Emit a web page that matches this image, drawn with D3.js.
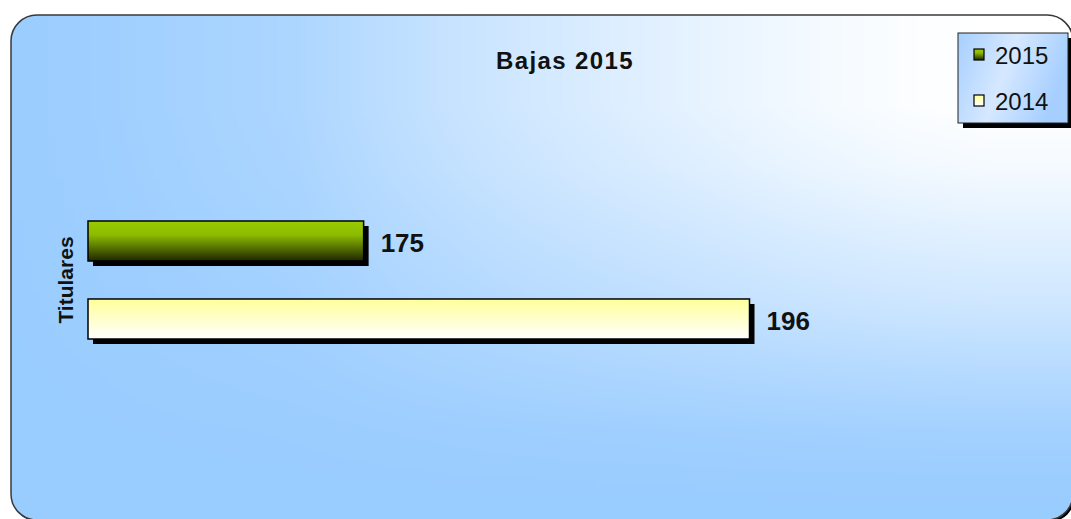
<!DOCTYPE html>
<html>
    <head>
        <meta charset="utf-8"/>
        <script src="https://cdnjs.cloudflare.com/ajax/libs/d3/7.8.5/d3.min.js"></script>
        <style>
            body { margin: 0; background: #fff; }
            text { font-family: Arial, "Liberation Sans", sans-serif; }
        </style>
    </head>
    <body>
        <script>
            // data
            const category = "Titulares";
            const seriesNames = ["2015", "2014"];
            const values = [175, 196];
            const title = "Bajas 2015";

            const width = 1071;
            const height = 519;

            const svg = d3.select("body").append("svg")
                .attr("width", width)
                .attr("height", height);

            const defs = svg.append("defs");

            // background: blue base with a white glow, stronger to the top right
            const area = { x: 11, y: 15, w: 1062, h: 505 };

            const hGrad = defs.append("linearGradient")
                .attr("id", "hg").attr("x1", 0).attr("y1", 0).attr("x2", 1).attr("y2", 0);
            [[0, 0.02], [0.08, 0.06], [0.27, 0.2], [0.37, 0.38], [0.46, 0.52], [0.55, 0.64],
             [0.65, 0.76], [0.74, 0.87], [0.84, 0.96], [0.92, 1], [1, 1]].forEach(([o, a]) =>
                hGrad.append("stop").attr("offset", o).attr("stop-color", "#fff").attr("stop-opacity", a));

            const vGrad = defs.append("linearGradient")
                .attr("id", "vg").attr("x1", 0).attr("y1", 0).attr("x2", 0).attr("y2", 1);
            [[0, 1], [0.18, 1], [0.3, 0.9], [0.43, 0.72], [0.57, 0.53], [0.7, 0.3],
             [0.82, 0.11], [0.92, 0.03], [1, 0]].forEach(([o, a]) =>
                vGrad.append("stop").attr("offset", o).attr("stop-color", "#fff").attr("stop-opacity", a));

            defs.append("mask").attr("id", "mh")
                .append("rect").attr("x", area.x).attr("y", area.y)
                .attr("width", area.w).attr("height", area.h).attr("fill", "url(#hg)");
            defs.append("mask").attr("id", "mv")
                .append("rect").attr("x", area.x).attr("y", area.y)
                .attr("width", area.w).attr("height", area.h).attr("fill", "url(#vg)");

            const green = defs.append("linearGradient")
                .attr("id", "g2015").attr("x1", 0).attr("y1", 0).attr("x2", 0).attr("y2", 1);
            green.append("stop").attr("offset", "0%").attr("stop-color", "#99cc00");
            green.append("stop").attr("offset", "35%").attr("stop-color", "#8cbb00");
            green.append("stop").attr("offset", "100%").attr("stop-color", "#1f2600");

            const yellow = defs.append("linearGradient")
                .attr("id", "g2014").attr("x1", 0).attr("y1", 0).attr("x2", 0).attr("y2", 1);
            yellow.append("stop").attr("offset", "0%").attr("stop-color", "#ffff99");
            yellow.append("stop").attr("offset", "100%").attr("stop-color", "#ffffff");

            const leg = defs.append("linearGradient")
                .attr("id", "leg").attr("x1", 0).attr("y1", 0).attr("x2", 1).attr("y2", 0.3);
            leg.append("stop").attr("offset", "0%").attr("stop-color", "#a6cfff");
            leg.append("stop").attr("offset", "50%").attr("stop-color", "#d6e8ff");
            leg.append("stop").attr("offset", "100%").attr("stop-color", "#a6cfff");

            const fills = { "2015": "url(#g2015)", "2014": "url(#g2014)" };

            // chart area
            svg.append("rect")
                .attr("x", area.x + 2).attr("y", area.y + 2)
                .attr("width", area.w).attr("height", area.h)
                .attr("rx", 26)
                .attr("fill", "#000");
            svg.append("rect")
                .attr("x", area.x).attr("y", area.y)
                .attr("width", area.w).attr("height", area.h)
                .attr("rx", 26)
                .attr("fill", "#99ccff");
            svg.append("g").attr("mask", "url(#mv)")
                .append("rect")
                .attr("mask", "url(#mh)")
                .attr("x", area.x).attr("y", area.y)
                .attr("width", area.w).attr("height", area.h)
                .attr("rx", 26)
                .attr("fill", "#fff");
            svg.append("rect")
                .attr("x", area.x).attr("y", area.y)
                .attr("width", area.w).attr("height", area.h)
                .attr("rx", 26)
                .attr("fill", "none")
                .attr("stroke", "#3a3a3a")
                .attr("stroke-width", 1.5);

            const x = d3.scaleLinear()
                .domain([160, 200])
                .range([88, 823]);

            const y = d3.scaleBand()
                .domain(seriesNames)
                .range([221, 339])
                .paddingInner(0.487)
                .paddingOuter(0);

            const rows = seriesNames.map((s, i) => ({ key: s, value: values[i] }));

            const bars = svg.append("g");

            bars.selectAll("rect.shadow")
                .data(rows)
                .join("rect")
                .attr("class", "shadow")
                .attr("x", x(160) + 5)
                .attr("y", d => y(d.key) + 5)
                .attr("width", d => x(d.value) - x(160))
                .attr("height", y.bandwidth())
                .attr("fill", "#000");

            bars.selectAll("rect.bar")
                .data(rows)
                .join("rect")
                .attr("class", "bar")
                .attr("x", x(160))
                .attr("y", d => y(d.key))
                .attr("width", d => x(d.value) - x(160))
                .attr("height", y.bandwidth())
                .attr("fill", d => fills[d.key])
                .attr("stroke", "#000")
                .attr("stroke-width", 1.5);

            bars.selectAll("text")
                .data(rows)
                .join("text")
                .attr("x", d => x(d.value) + 17)
                .attr("y", d => y(d.key) + y.bandwidth() / 2 + 11)
                .attr("font-size", 26)
                .attr("font-weight", "bold")
                .attr("fill", "#111")
                .text(d => d.value);

            // category label
            svg.append("text")
                .attr("transform", `translate(73,${(y.range()[0] + y.range()[1]) / 2}) rotate(-90)`)
                .attr("text-anchor", "middle")
                .attr("font-size", 21)
                .attr("font-weight", "bold")
                .attr("fill", "#111")
                .text(category);

            // title
            svg.append("text")
                .attr("x", 565).attr("y", 69)
                .attr("text-anchor", "middle")
                .attr("font-size", 24)
                .attr("font-weight", "bold")
                .attr("letter-spacing", 1.4)
                .attr("fill", "#111")
                .text(title);

            // legend
            const lg = svg.append("g").attr("transform", "translate(958,33)");
            lg.append("rect")
                .attr("x", 5).attr("y", 5).attr("width", 110).attr("height", 90)
                .attr("fill", "#000");
            lg.append("rect")
                .attr("width", 110).attr("height", 90)
                .attr("fill", "url(#leg)")
                .attr("stroke", "#222").attr("stroke-width", 1);

            const items = lg.selectAll("g.item")
                .data(seriesNames)
                .join("g")
                .attr("class", "item")
                .attr("transform", (d, i) => `translate(0,${16 + i * 46})`);

            items.append("rect")
                .attr("x", 16).attr("y", 0)
                .attr("width", 10).attr("height", 11)
                .attr("fill", d => fills[d])
                .attr("stroke", "#000").attr("stroke-width", 1.2);

            items.append("text")
                .attr("x", 37).attr("y", 15)
                .attr("font-size", 24)
                .attr("fill", "#111")
                .text(d => d);
        </script>
    </body>
</html>
